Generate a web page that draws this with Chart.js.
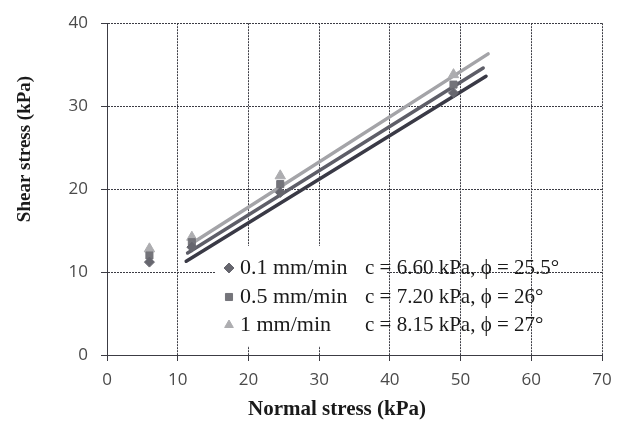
<!DOCTYPE html>
<html>
<head>
<meta charset="utf-8">
<script src="https://cdn.jsdelivr.net/npm/chart.js@4.4.0/dist/chart.umd.min.js"></script>
<style>
  html, body { margin: 0; padding: 0; background: #fff; }
  canvas { display: block; }
</style>
</head>
<body>
<canvas id="chart" width="625" height="424"></canvas>
<script>
// measured points (normal stress, shear stress) in kPa
const normalStress = [6, 12, 24.5, 49];
const shearSlow = [11.2, 13.0, 19.6, 31.6];   // 0.1 mm/min
const shearMid = [12.0, 13.6, 20.6, 32.6];    // 0.5 mm/min
const shearFast = [12.8, 14.2, 21.6, 33.8];   // 1 mm/min

// fitted failure envelopes (end points)
const fitSlowX = [11.2, 53.6];
const fitSlowY = [11.3, 33.6];
const fitMidX = [11.4, 53.2];
const fitMidY = [12.3, 34.6];
const fitFastX = [11.7, 53.9];
const fitFastY = [13.3, 36.3];

const seriesNames = ['0.1 mm/min', '0.5 mm/min', '1 mm/min'];
const fitNames = ['c = 6.60 kPa, \u03D5 = 25.5\u00B0', 'c = 7.20 kPa, \u03D5 = 26\u00B0', 'c = 8.15 kPa, \u03D5 = 27\u00B0'];
const xTicks = [0, 10, 20, 30, 40, 50, 60, 70];
const yTicks = [0, 10, 20, 30, 40];

const markerStyles = ['rectRot', 'rect', 'triangle'];
const markerColors = ['#66666e', '#74747a', '#adadb0'];
const lineColors = ['#3a3a46', '#5e5e68', '#a4a4a8'];

const pairs = (xs, ys) => xs.map((x, i) => ({ x: x, y: ys[i] }));

const pointSets = [shearSlow, shearMid, shearFast];
const fitSets = [[fitSlowX, fitSlowY], [fitMidX, fitMidY], [fitFastX, fitFastY]];

const datasets = [];
fitSets.forEach((f, i) => {
  datasets.push({
    label: fitNames[i],
    data: pairs(f[0], f[1]),
    showLine: true,
    borderColor: lineColors[i],
    borderWidth: 3.5,
    borderCapStyle: 'round',
    pointRadius: 0,
    order: 2
  });
});
pointSets.forEach((ys, i) => {
  datasets.push({
    label: seriesNames[i],
    data: pairs(normalStress, ys),
    showLine: false,
    pointStyle: markerStyles[i],
    pointRadius: i === 2 ? 6 : 5,
    pointBackgroundColor: markerColors[i],
    pointBorderColor: markerColors[i],
    order: 1
  });
});

const serif = '"Liberation Serif", "Times New Roman", serif';

// white legend box, behind the lines
const legendBox = {
  id: 'legendBox',
  beforeDatasetsDraw(chart) {
    const ctx = chart.ctx;
    ctx.save();
    ctx.fillStyle = '#fff';
    ctx.fillRect(215, 246, 172, 100);
    ctx.restore();
  }
};

// legend entries, fit labels and axis titles
const labelsPlugin = {
  id: 'labels',
  afterDraw(chart) {
    const ctx = chart.ctx;
    ctx.save();
    const rows = [268, 297, 325];
    rows.forEach((y, i) => {
      ctx.fillStyle = markerColors[i];
      ctx.strokeStyle = markerColors[i];
      Chart.helpers.drawPoint(ctx, {
        pointStyle: markerStyles[i],
        radius: 5,
        rotation: 0,
        borderWidth: 1
      }, 229, y);
      ctx.fillStyle = '#1a1a1a';
      ctx.textAlign = 'left';
      ctx.textBaseline = 'middle';
      ctx.font = '22px ' + serif;
      ctx.fillText(seriesNames[i], 240, y);
      ctx.font = '21px ' + serif;
      ctx.fillText(fitNames[i], 365, y);
    });

    ctx.fillStyle = '#1a1a1a';
    ctx.font = 'bold 21px ' + serif;
    ctx.textAlign = 'center';
    ctx.textBaseline = 'middle';
    ctx.fillText('Normal stress (kPa)', 337, 410);

    ctx.translate(25, 149);
    ctx.rotate(-Math.PI / 2);
    ctx.font = 'bold 19px ' + serif;
    ctx.fillText('Shear stress (kPa)', 0, 0);
    ctx.restore();
  }
};

new Chart(document.getElementById('chart'), {
  type: 'scatter',
  data: { datasets: datasets },
  options: {
    responsive: false,
    animation: false,
    layout: { padding: { left: 0, top: 22, right: 23, bottom: 0 } },
    plugins: {
      legend: { display: false },
      tooltip: { enabled: false }
    },
    scales: {
      x: {
        type: 'linear',
        min: 0,
        max: 70,
        afterBuildTicks: (axis) => { axis.ticks = xTicks.map(v => ({ value: v })); },
        afterFit: (axis) => { axis.height = 69; },
        ticks: {
          padding: 9,
          color: '#4a4a4a',
          font: { family: '"Open Sans", sans-serif', size: 17 }
        },
        grid: { color: '#3c3c44', lineWidth: 1, tickLength: 6 },
        border: { color: '#3c3c44', dash: [2, 1] }
      },
      y: {
        min: 0,
        max: 40,
        afterBuildTicks: (axis) => { axis.ticks = yTicks.map(v => ({ value: v })); },
        afterFit: (axis) => { axis.width = 107; },
        ticks: {
          padding: 13,
          color: '#4a4a4a',
          font: { family: '"Open Sans", sans-serif', size: 17 }
        },
        grid: { color: '#3c3c44', lineWidth: 1, tickLength: 6 },
        border: { color: '#3c3c44', dash: [2, 1] }
      }
    }
  },
  plugins: [legendBox, labelsPlugin]
});
</script>
</body>
</html>
